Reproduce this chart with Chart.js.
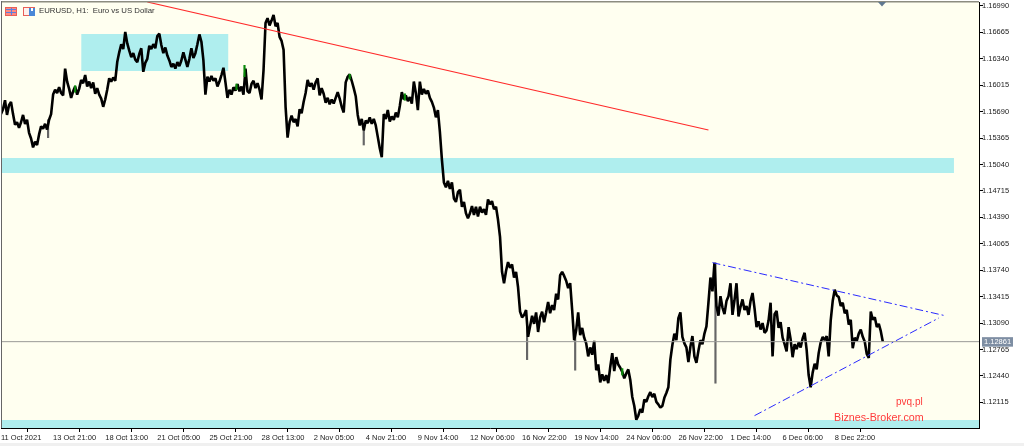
<!DOCTYPE html>
<html>
<head>
<meta charset="utf-8">
<title>EURUSD, H1</title>
<script src="https://cdn.jsdelivr.net/npm/chart.js@4"></script>
<style>
  html, body { margin: 0; padding: 0; background: #fff; }
  canvas { display: block; }
</style>
</head>
<body>
<canvas id="chart" width="1024" height="446"></canvas>
<script>
const xTickBars = [0, 52, 104, 156, 208, 260, 312, 364, 416, 468, 520, 572, 624, 676, 728, 780, 832];
const xTickLabels = [
  "11 Oct 2021", "13 Oct 21:00", "18 Oct 13:00", "21 Oct 05:00", "25 Oct 21:00", "28 Oct 13:00",
  "2 Nov 05:00", "4 Nov 21:00", "9 Nov 14:00", "12 Nov 06:00", "16 Nov 22:00", "19 Nov 14:00",
  "24 Nov 06:00", "26 Nov 22:00", "1 Dec 14:00", "6 Dec 06:00", "8 Dec 22:00",
];
const yTickValues = [
  1.1699, 1.16665, 1.1634, 1.16015, 1.1569, 1.15365, 1.1504, 1.14715,
  1.1439, 1.14065, 1.1374, 1.13415, 1.1309, 1.12765, 1.1244, 1.12115,
];

// price path, one value for every second bar
const barsPerPrice = 2;
const prices = [
  1.1566, 1.1572, 1.1583, 1.1565, 1.1577, 1.1581, 1.1566, 1.1553, 1.1556, 1.1549, 1.1556, 1.1565, 1.1554, 1.1559, 1.1543, 1.1536, 1.1525, 1.1532, 1.1528, 1.1541,
  1.1551, 1.1548, 1.1554, 1.1547, 1.1559, 1.1566, 1.159, 1.1596, 1.1592, 1.1599, 1.1592, 1.1589, 1.1622, 1.1606, 1.1597, 1.1586, 1.1594, 1.16, 1.159, 1.1597,
  1.1608, 1.1604, 1.1614, 1.16, 1.1606, 1.1598, 1.1605, 1.1591, 1.1598, 1.159, 1.1585, 1.1575, 1.1584, 1.1596, 1.161, 1.1606, 1.1611, 1.1607, 1.163, 1.1642,
  1.1652, 1.1646, 1.1667, 1.1653, 1.1644, 1.1636, 1.1641, 1.1633, 1.163, 1.164, 1.1647, 1.1618, 1.1629, 1.1634, 1.165, 1.1646, 1.1652, 1.1647, 1.1662, 1.1665,
  1.1651, 1.1641, 1.1648, 1.1638, 1.1632, 1.1624, 1.1628, 1.1622, 1.163, 1.1625, 1.1632, 1.1642, 1.1633, 1.1624, 1.1634, 1.1647, 1.1635, 1.1641, 1.1652, 1.1664,
  1.1655, 1.1632, 1.159, 1.1612, 1.1606, 1.1613, 1.1607, 1.161, 1.16, 1.1606, 1.1614, 1.1623, 1.1605, 1.1586, 1.1596, 1.159, 1.1599, 1.1595, 1.1603, 1.1594,
  1.16, 1.159, 1.1622, 1.1594, 1.1592, 1.1603, 1.1607, 1.1598, 1.1604, 1.1596, 1.1584, 1.162, 1.1678, 1.1684, 1.1675, 1.1681, 1.1688, 1.1674, 1.1678, 1.1661,
  1.1656, 1.1645, 1.1575, 1.1537, 1.1556, 1.1564, 1.1556, 1.156, 1.1551, 1.1572, 1.1567, 1.1581, 1.1592, 1.1608, 1.16, 1.1604, 1.1596, 1.1605, 1.161, 1.1589,
  1.1598, 1.1591, 1.158, 1.1586, 1.1578, 1.1584, 1.1579, 1.1586, 1.1593, 1.1585, 1.1575, 1.1568, 1.1605, 1.1612, 1.1615, 1.1607, 1.1598, 1.1588, 1.1565, 1.1552,
  1.156, 1.1546, 1.1558, 1.1555, 1.1562, 1.1554, 1.156, 1.1552, 1.1538, 1.1524, 1.1513, 1.1566, 1.156, 1.1571, 1.1557, 1.1563, 1.1559, 1.1568, 1.1562, 1.1576,
  1.1593, 1.1584, 1.1589, 1.1582, 1.1587, 1.1579, 1.1606, 1.1592, 1.1571, 1.1606, 1.159, 1.1597, 1.1591, 1.1595, 1.1586, 1.1581, 1.1574, 1.1562, 1.1571, 1.1544,
  1.151, 1.1482, 1.1476, 1.1484, 1.1474, 1.1482, 1.1462, 1.1458, 1.147, 1.1473, 1.1452, 1.1458, 1.1444, 1.1438, 1.1444, 1.1453, 1.1442, 1.1452, 1.144, 1.1452,
  1.1445, 1.1449, 1.1442, 1.1461, 1.1455, 1.1459, 1.1449, 1.1452, 1.1436, 1.1415, 1.1372, 1.1358, 1.1373, 1.1384, 1.1377, 1.1381, 1.1365, 1.1372, 1.1353, 1.1323,
  1.1316, 1.1319, 1.1325, 1.1292, 1.1305, 1.1318, 1.1308, 1.1322, 1.1298, 1.1316, 1.1323, 1.131, 1.1322, 1.1335, 1.1321, 1.1331, 1.1325, 1.1345, 1.1338, 1.1368,
  1.1372, 1.1367, 1.1361, 1.1352, 1.1358, 1.1325, 1.1288, 1.13, 1.1322, 1.1294, 1.1303, 1.1291, 1.1284, 1.1268, 1.1279, 1.127, 1.1287, 1.1251, 1.1258, 1.1236,
  1.1246, 1.1238, 1.1245, 1.1235, 1.1255, 1.1272, 1.125, 1.1267, 1.1258, 1.1254, 1.1249, 1.1241, 1.1247, 1.1252, 1.1239, 1.1218, 1.1207, 1.119, 1.1195, 1.1203,
  1.1199, 1.1215, 1.1212, 1.1219, 1.1224, 1.1218, 1.1222, 1.1212, 1.1209, 1.1205, 1.1207, 1.1217, 1.1223, 1.123, 1.1264, 1.1282, 1.1296, 1.1288, 1.1315, 1.1322,
  1.1292, 1.1284, 1.1279, 1.1261, 1.128, 1.1293, 1.1268, 1.126, 1.1275, 1.1288, 1.1283, 1.1296, 1.1305, 1.1334, 1.1365, 1.1348, 1.1383, 1.133, 1.1318, 1.1342,
  1.1328, 1.132, 1.1336, 1.1342, 1.1358, 1.1319, 1.1337, 1.1358, 1.1317, 1.1329, 1.1338, 1.1325, 1.133, 1.1319, 1.1336, 1.1346, 1.1327, 1.1304, 1.1311, 1.1301,
  1.1309, 1.1297, 1.13, 1.1312, 1.1334, 1.1268, 1.132, 1.1324, 1.1303, 1.131, 1.1291, 1.1283, 1.1274, 1.1304, 1.1289, 1.1267, 1.1283, 1.1277, 1.1285, 1.1279,
  1.129, 1.1297, 1.1276, 1.1245, 1.123, 1.1248, 1.1259, 1.1252, 1.1272, 1.1285, 1.1292, 1.1288, 1.1293, 1.1268, 1.1312, 1.1336, 1.135, 1.1343, 1.1341, 1.133,
  1.1334, 1.1321, 1.1325, 1.1307, 1.1313, 1.1278, 1.1291, 1.1287, 1.1296, 1.1301, 1.1292, 1.1286, 1.1271, 1.1266, 1.1323, 1.1313, 1.1316, 1.1304, 1.1308, 1.1299,
  1.1286,
];

// long wicks that stick out of the path
const wickBars = [47, 362, 525, 573, 713];
const wickLows = [1.1537, 1.1528, 1.1264, 1.1251, 1.1235];
const wickHighs = [1.1559, 1.1553, 1.1307, 1.1301, 1.1383];

// the few green candles
const greenBars = [74, 235, 243, 348, 403, 620];
const greenLows = [1.1593, 1.1596, 1.1612, 1.1609, 1.1583, 1.1245];
const greenHighs = [1.1601, 1.1603, 1.1626, 1.1615, 1.1591, 1.1253];

const zoneStarts = [80, 0, 0];
const zoneEnds = [227, 951, 976];
const zoneHighs = [1.16646, 1.15121, 1.11898];
const zoneLows = [1.1619, 1.14936, 1.118];

const redLineBars = [146, 706];
const redLinePrices = [1.17039, 1.15465];
const upperLineBars = [710, 942];
const upperLinePrices = [1.13833, 1.13181];
const lowerLineBars = [752, 936];
const lowerLinePrices = [1.11951, 1.13153];

const currentPrice = 1.12861;
const barsShown = 976;

const toPoints = (bars, values) => bars.map((x, i) => ({ x, y: values[i] }));
const toBars = (bars, lows, highs) =>
  bars.map((x, i) => ({ x, y: [lows[i], highs[i]] }));

const zoneDatasets = zoneStarts.map((start, i) => ({
  type: "line",
  data: toPoints([start, zoneEnds[i]], [zoneHighs[i], zoneHighs[i]]),
  borderWidth: 0,
  pointRadius: 0,
  backgroundColor: "#afeeee",
  fill: { value: zoneLows[i] },
  order: 6,
}));

const trendLine = (bars, values, color, width, dash) => ({
  type: "line",
  data: toPoints(bars, values),
  borderColor: color,
  borderWidth: width,
  borderDash: dash,
  pointRadius: 0,
  tension: 0,
  order: 0,
});

const frame = {
  id: "frame",
  beforeDraw(chart) {
    const { ctx, chartArea: a } = chart;
    ctx.save();
    ctx.fillStyle = "#fffff0";
    ctx.fillRect(a.left, a.top, a.right - a.left, a.bottom - a.top);
    ctx.fillStyle = "#f0f0f0";
    ctx.fillRect(0, 443, 1024, 3);
    ctx.restore();
  },
  afterDraw(chart) {
    const { ctx, chartArea: a, scales } = chart;
    ctx.save();
    ctx.fillStyle = "#8c8c80";
    ctx.fillRect(a.left, a.top - 1, a.right - a.left, 1.5);
    ctx.fillStyle = "#666";
    ctx.fillRect(a.left, a.top - 1, 1, a.bottom - a.top + 1);

    // small arrow hanging from the top edge
    ctx.fillStyle = "#607890";
    ctx.beginPath();
    ctx.moveTo(878, a.top);
    ctx.lineTo(886, a.top);
    ctx.lineTo(882, a.top + 4.5);
    ctx.fill();

    // toolbar icons
    [5, 23].forEach((x, n) => {
      ctx.fillStyle = "#fff0ec";
      ctx.fillRect(x, 7, 11, 9);
      ctx.strokeStyle = "#e86058";
      ctx.strokeRect(x + 0.5, 7.5, 11, 8);
      if (n) {
        ctx.fillStyle = "#4a88d8";
        ctx.fillRect(x + 6, 8, 6, 8);
        ctx.fillStyle = "#fff";
        ctx.fillRect(x + 8, 8, 2, 3);
      } else {
        ctx.fillStyle = "#ff8a80";
        ctx.fillRect(x + 1, 8, 10, 7);
        ctx.fillStyle = "#5a80e0";
        [9, 12].forEach((y) => ctx.fillRect(x + 1, y, 10, 1));
        ctx.fillRect(x + 6, 8, 1, 7);
      }
    });

    ctx.textBaseline = "middle";
    ctx.fillStyle = "#333";
    ctx.font = '7.8px "Liberation Sans"';
    ctx.fillText("EURUSD, H1:  Euro vs US Dollar", 39, 11);

    ctx.fillStyle = "#ff3b3b";
    ctx.font = '10px "Liberation Sans"';
    ctx.fillText("pvq.pl", 896, 402);
    ctx.font = '10.7px "Liberation Sans"';
    ctx.fillText("Biznes-Broker.com", 834, 418);

    // current price tag on the axis
    const y = scales.y.getPixelForValue(currentPrice);
    ctx.fillStyle = "#7e8ea3";
    ctx.fillRect(982, y - 4.5, 31, 9.5);
    ctx.fillStyle = "#fff";
    ctx.font = '7.5px "Liberation Sans"';
    ctx.fillText(currentPrice.toFixed(5), 984, y + 0.5);
    ctx.restore();
  },
};

new Chart(document.getElementById("chart"), {
  type: "line",
  data: {
    datasets: [
      ...zoneDatasets,
      trendLine([0, barsShown], [currentPrice, currentPrice], "#9a9a96", 1, []),
      {
        type: "bar",
        data: toBars(wickBars, wickLows, wickHighs),
        backgroundColor: "#666",
        barThickness: 1.5,
        grouped: false,
        order: 3,
      },
      {
        type: "line",
        data: prices.map((y, i) => ({ x: i * barsPerPrice, y })),
        borderColor: "#000",
        borderWidth: 2.6,
        borderJoinStyle: "bevel",
        pointRadius: 0,
        tension: 0,
        order: 2,
      },
      {
        type: "bar",
        data: toBars(greenBars, greenLows, greenHighs),
        backgroundColor: "#0a8a0a",
        barThickness: 1.5,
        grouped: false,
        order: 1,
      },
      trendLine(redLineBars, redLinePrices, "#ff2a2a", 1.1, []),
      trendLine(upperLineBars, upperLinePrices, "#2a2aff", 1, [8, 3, 2, 3]),
      trendLine(lowerLineBars, lowerLinePrices, "#2a2aff", 1, [8, 3, 2, 3]),
    ],
  },
  options: {
    responsive: false,
    animation: false,
    layout: { padding: { left: 1, top: 2, right: 0, bottom: 0 } },
    plugins: { legend: { display: false }, tooltip: { enabled: false } },
    scales: {
      x: {
        type: "linear",
        min: 0,
        max: barsShown,
        offset: false,
        afterFit: (scale) => {
          scale.height = 18;
          scale.paddingLeft = 0;
          scale.paddingRight = 0;
        },
        afterBuildTicks: (scale) => { scale.ticks = xTickBars.map((value) => ({ value })); },
        border: { color: "#000" },
        grid: { drawOnChartArea: false, tickLength: 4, color: "#000" },
        ticks: {
          autoSkip: false,
          maxRotation: 0,
          align: "start",
          padding: 1,
          color: "#222",
          font: { family: "Liberation Sans", size: 7.5 },
          callback: (value, i) => xTickLabels[i],
        },
      },
      y: {
        position: "right",
        min: 1.11799,
        max: 1.17039,
        afterFit: (scale) => {
          scale.width = 45;
          scale.paddingTop = 0;
          scale.paddingBottom = 0;
        },
        afterBuildTicks: (scale) => { scale.ticks = yTickValues.map((value) => ({ value })); },
        border: { color: "#000" },
        grid: { drawOnChartArea: false, tickLength: 4, color: "#000" },
        ticks: {
          autoSkip: false,
          padding: -1,
          color: "#222",
          font: { family: "Liberation Sans", size: 7.5 },
          callback: (value) => value.toFixed(5),
        },
      },
    },
  },
  plugins: [frame],
});
</script>
</body>
</html>
